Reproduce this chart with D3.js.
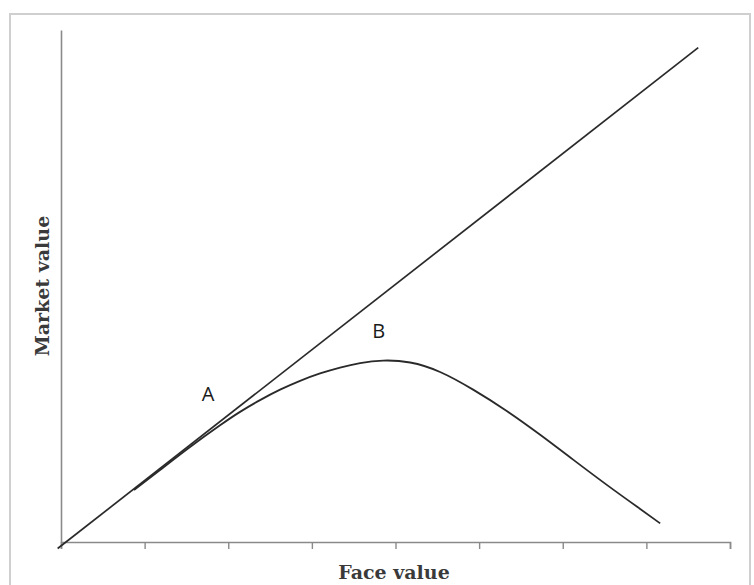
<!DOCTYPE html>
<html>
<head>
<meta charset="utf-8">
<script src="https://cdn.jsdelivr.net/npm/d3@7"></script>
<style>
  html, body { margin: 0; padding: 0; background: #fff; }
  svg { display: block; }
</style>
</head>
<body>
<svg id="chart" width="754" height="585"></svg>
<script>
// ---- data (face value on x, market value on y, arbitrary units) ----
const xTicks = [0, 1, 2, 3, 4, 5, 6, 7, 8];
const lineFace = [-0.04, 7.62];
const lineMarket = [-0.1, 7.56];
const curveFace = [0.873, 1.184, 1.543, 1.902, 2.141, 2.380, 2.620, 2.859, 3.098, 3.337, 3.577, 3.852, 4.175, 4.533, 4.928, 5.335, 5.730, 6.124, 6.531, 6.926, 7.165];
const curveMarket = [0.795, 1.101, 1.453, 1.785, 1.990, 2.170, 2.330, 2.465, 2.578, 2.668, 2.737, 2.775, 2.745, 2.600, 2.330, 2.000, 1.640, 1.260, 0.870, 0.505, 0.285];
const pointLabels = ["A", "B"];
const labelFace = [1.76, 3.80];
const labelMarket = [2.16, 3.12];
const xTitle = "Face value";
const yTitle = "Market value";

const svg = d3.select("#chart");

// outer frame
svg.append("rect")
  .attr("x", 10).attr("y", 14).attr("width", 740).attr("height", 620)
  .attr("fill", "none").attr("stroke", "#cfcfcf").attr("stroke-width", 2);

const x = d3.scaleLinear().domain([0, 8]).range([61, 730]);
const y = d3.scaleLinear().domain([0, 7.83]).range([542, 30]);

// x axis
const xAxis = d3.axisBottom(x).tickValues(xTicks).tickSize(7).tickFormat("");
const gx = svg.append("g").attr("transform", `translate(0,${y(0)})`).call(xAxis);
gx.select(".domain").attr("stroke", "#8a8a8a").attr("stroke-width", 1.6);
gx.selectAll(".tick line").attr("stroke", "#8a8a8a").attr("stroke-width", 1.4);

// y axis (no ticks)
const yAxis = d3.axisLeft(y).tickValues([]).tickSizeOuter(0);
const gy = svg.append("g").attr("transform", `translate(${x(0)},0)`).call(yAxis);
gy.select(".domain").attr("stroke", "#8a8a8a").attr("stroke-width", 1.6);

// 45-degree line
const lineData = lineFace.map((f, i) => [f, lineMarket[i]]);
const gen = d3.line().x(d => x(d[0])).y(d => y(d[1]));
svg.append("path").datum(lineData).attr("d", gen)
  .attr("fill", "none").attr("stroke", "#2a2a2a").attr("stroke-width", 1.7);

// Laffer curve
const curveData = curveFace.map((f, i) => [f, curveMarket[i]]);
const genC = d3.line().x(d => x(d[0])).y(d => y(d[1])).curve(d3.curveNatural);
svg.append("path").datum(curveData).attr("d", genC)
  .attr("fill", "none").attr("stroke", "#2a2a2a").attr("stroke-width", 1.8);

// point labels
svg.selectAll("text.pt").data(pointLabels).join("text")
  .attr("class", "pt")
  .attr("x", (d, i) => x(labelFace[i]))
  .attr("y", (d, i) => y(labelMarket[i]))
  .attr("text-anchor", "middle")
  .attr("font-family", "'Open Sans', sans-serif")
  .attr("font-size", 20)
  .attr("fill", "#1a1a1a")
  .text(d => d);

// axis titles
svg.append("text")
  .attr("x", 394).attr("y", 579)
  .attr("text-anchor", "middle")
  .attr("font-family", "'DejaVu Serif', serif")
  .attr("font-size", 19)
  .attr("font-weight", "bold")
  .attr("fill", "#3a3a3a")
  .text(xTitle);

svg.append("text")
  .attr("transform", `translate(49,286) rotate(-90)`)
  .attr("text-anchor", "middle")
  .attr("font-family", "'DejaVu Serif', serif")
  .attr("font-size", 19)
  .attr("font-weight", "bold")
  .attr("fill", "#3a3a3a")
  .text(yTitle);
</script>
</body>
</html>
